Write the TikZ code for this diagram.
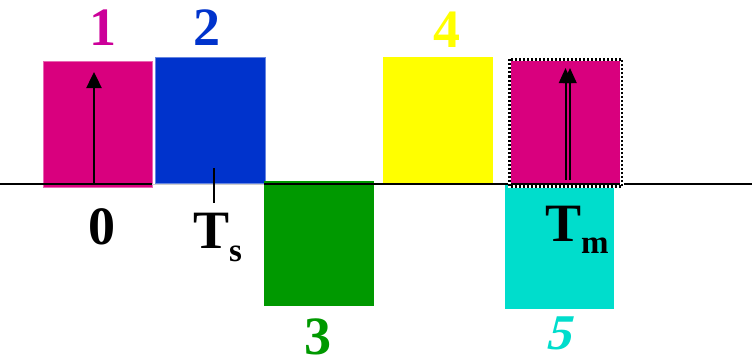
\documentclass[tikz,border=0pt]{standalone}
\usepackage{fontspec}
\setmainfont{Liberation Serif}
\newfontfamily\slantbold[FakeSlant=0.25]{Liberation Serif Bold}
\usetikzlibrary{arrows.meta}
\definecolor{cmag}{RGB}{217,0,126}
\definecolor{cmaglab}{RGB}{204,0,153}
\definecolor{cblue}{RGB}{0,51,204}
\definecolor{cgreen}{RGB}{0,153,0}
\definecolor{cyell}{RGB}{255,255,0}
\definecolor{ccyan}{RGB}{0,221,204}
\tikzset{
  lab/.style={inner sep=0pt, font=\fontsize{54}{54}\selectfont\bfseries},
  axisline/.style={line width=2pt, black},
  sig/.style={line width=2.4pt, black},
}
\begin{document}
\begin{tikzpicture}[x=1pt,y=-1pt]
\useasboundingbox (0,0) rectangle (752,361);
% boxes
\fill[cmag, draw=cmag!60!white, line width=0.8pt] (43,61) rectangle (152,187);
\fill[cblue, draw=cblue!60!white, line width=0.8pt] (155,57) rectangle (265,183);
\fill[cgreen] (264,181) rectangle (374,306);
\fill[cyell] (383,57) rectangle (493,183);
\fill[ccyan] (505,183) rectangle (614,309);
% axis
\coordinate (a0) at (0,184);
\coordinate (a1) at (152,184);
\coordinate (a2) at (264,184);
\coordinate (a3) at (752,184);
\draw[axisline] (a0) -- (a1);
\draw[gray!40, line width=0.8pt] (a1) -- (a2);
\draw[axisline] (a2) -- (a3);
% magenta box 5 with dotted frame
\fill[cmag] (511,58) rectangle (621,183);
\draw[white, line width=3.5pt] (509.5,59.5) rectangle (622,186.5);
\draw[black, line width=2.2pt, dash pattern=on 2pt off 2pt] (509.5,59.5) rectangle (622,186.5);
% arrows
\coordinate (p1) at (94,184);
\coordinate (q1) at (94,72);
\draw[sig, -{Triangle[width=15pt,length=16pt]}] (p1) -- (q1);
\coordinate (p2) at (565.5,180);
\coordinate (q2) at (565.5,68);
\coordinate (p3) at (570,180);
\coordinate (q3) at (570,68);
\draw[line width=2pt, -{Triangle[width=13pt,length=15pt]}] (p2) -- (q2);
\draw[line width=2pt, -{Triangle[width=13pt,length=15pt]}] (p3) -- (q3);
% tick
\coordinate (t1) at (214,168);
\coordinate (t2) at (214,203);
\draw[sig] (t1) -- (t2);
% labels
\node[lab, text=cmaglab] (l1) at (103,28) {1};
\node[lab, text=cblue] (l2) at (207,28) {2};
\node[lab, text=cgreen] (l3) at (318,337) {3};
\node[lab, text=cyell] (l4) at (447,30) {4};
\node[lab, text=ccyan, font=\fontsize{50}{50}\slantbold] (l5) at (558,333) {5};
\node[lab] (l0) at (102,227) {0};
\node[lab, anchor=base west] (ts) at (193,248) {T\raisebox{-13pt}{\fontsize{33}{33}\selectfont s}};
\node[lab, anchor=base west] (tm) at (545,241) {T\raisebox{-12pt}{\fontsize{33}{33}\selectfont m}};
\end{tikzpicture}
\end{document}
